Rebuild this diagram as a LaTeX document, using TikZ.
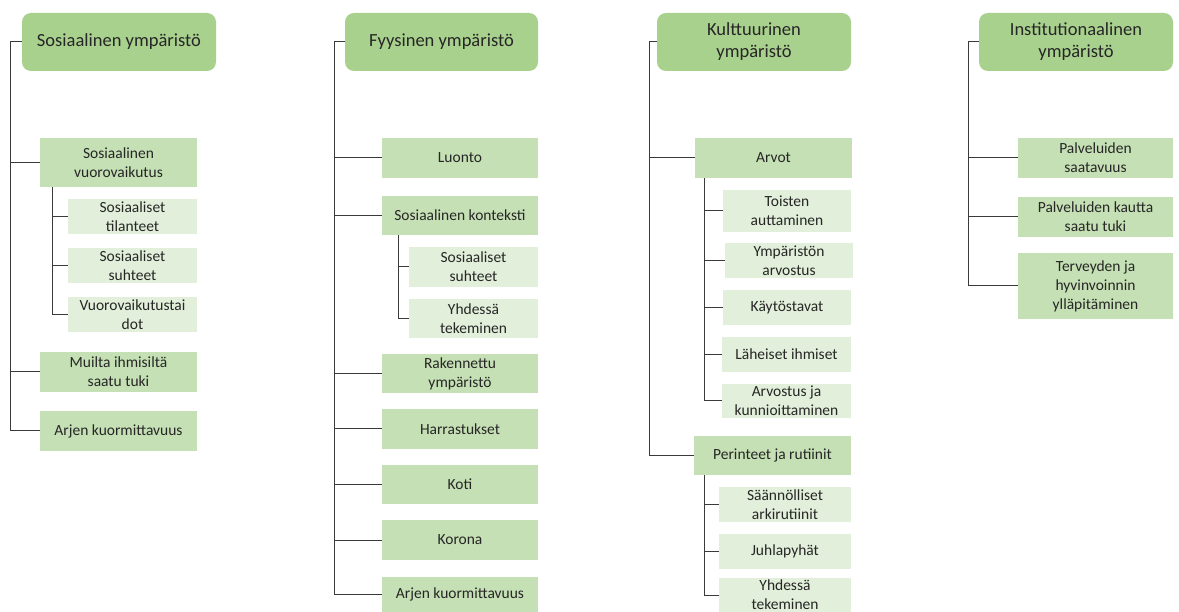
\documentclass[tikz,border=0pt]{standalone}
\usepackage{fontspec}
\setmainfont{Carlito}
\definecolor{hdr}{HTML}{A9D18E}
\definecolor{lvtwo}{HTML}{C5E0B4}
\definecolor{lvthree}{HTML}{E2EFDA}
\definecolor{ink}{HTML}{262626}
\definecolor{wire}{HTML}{3A3A3A}
\newcommand\mybox[7]{\node[#1, minimum width={(#5-#3)*1pt}, minimum height={(#6-#4)*1pt}] (#2) at ({(#3+#5)/2},{(#4+#6)/2}) {#7};}
\begin{document}
\begin{tikzpicture}[x=1pt,y=-1pt,
  hbox/.style={fill=hdr, rounded corners=9pt, inner sep=0pt, align=center, text=ink, font=\fontsize{18.5}{22}\selectfont},
  lbox/.style={fill=lvtwo, inner sep=0pt, align=center, text=ink, font=\fontsize{15.5}{19}\selectfont},
  sbox/.style={fill=lvthree, inner sep=0pt, align=center, text=ink, font=\fontsize{15.5}{19}\selectfont},
  conn/.style={draw=wire, line width=1pt}]
\useasboundingbox (0,0) rectangle (1179,612);
\fill[white] (0,0) rectangle (1179,612);
% ---------- column 1
\mybox{hbox}{h1}{22}{13}{216}{71}{Sosiaalinen ympäristö}
\mybox{lbox}{sv}{40}{138}{197}{187}{Sosiaalinen\\vuorovaikutus}
\mybox{sbox}{st}{68}{199}{197}{234}{Sosiaaliset\\tilanteet}
\mybox{sbox}{ssa}{68}{248}{197}{283}{Sosiaaliset\\suhteet}
\mybox{sbox}{vd}{68}{297}{197}{332}{Vuorovaikutustai\\dot}
\mybox{lbox}{mt}{40}{352}{197}{392}{Muilta ihmisiltä\\saatu tuki}
\mybox{lbox}{aka}{40}{411}{197}{451}{Arjen kuormittavuus}
\coordinate (ta) at (10,0);
\coordinate (sa) at (52,0);
\draw[conn] (h1.west) -- (h1.west -| ta) -- (aka.west -| ta) -- (aka.west);
\draw[conn] (sv.west -| ta) -- (sv.west);
\draw[conn] (mt.west -| ta) -- (mt.west);
\draw[conn] (sv.south -| sa) -- (vd.west -| sa) -- (vd.west);
\draw[conn] (st.west -| sa) -- (st.west);
\draw[conn] (ssa.west -| sa) -- (ssa.west);
% ---------- column 2
\mybox{hbox}{h2}{345}{13}{538}{71}{Fyysinen ympäristö}
\mybox{lbox}{lu}{382}{138}{538}{178}{Luonto}
\mybox{lbox}{sk}{382}{196}{538}{235}{Sosiaalinen konteksti}
\mybox{sbox}{ssb}{409}{247}{538}{287}{Sosiaaliset\\suhteet}
\mybox{sbox}{ytb}{409}{299}{538}{338}{Yhdessä\\tekeminen}
\mybox{lbox}{ry}{382}{354}{538}{393}{Rakennettu\\ympäristö}
\mybox{lbox}{ha}{382}{409}{538}{449}{Harrastukset}
\mybox{lbox}{ko}{382}{465}{538}{504}{Koti}
\mybox{lbox}{kr}{382}{520}{538}{560}{Korona}
\mybox{lbox}{akb}{382}{577}{538}{612}{Arjen kuormittavuus}
\coordinate (tb) at (334,0);
\coordinate (sb) at (398,0);
\draw[conn] (h2.west) -- (h2.west -| tb) -- (akb.west -| tb) -- (akb.west);
\foreach \n in {lu,sk,ry,ha,ko,kr} \draw[conn] (\n.west -| tb) -- (\n.west);
\draw[conn] (sk.south -| sb) -- (ytb.west -| sb) -- (ytb.west);
\draw[conn] (ssb.west -| sb) -- (ssb.west);
% ---------- column 3
\mybox{hbox}{h3}{657}{13}{851}{71}{Kulttuurinen\\ympäristö}
\mybox{lbox}{ar}{695}{138}{852}{178}{Arvot}
\mybox{sbox}{toi}{723}{190}{851}{232}{Toisten\\auttaminen}
\mybox{sbox}{ya}{725}{243}{853}{278}{Ympäristön\\arvostus}
\mybox{sbox}{kt}{723}{290}{851}{325}{Käytöstavat}
\mybox{sbox}{li}{722}{337}{851}{372}{Läheiset ihmiset}
\mybox{sbox}{aj}{722}{384}{851}{418}{Arvostus ja\\kunnioittaminen}
\mybox{lbox}{pr}{694}{436}{851}{475}{Perinteet ja rutiinit}
\mybox{sbox}{sr}{719}{487}{851}{522}{Säännölliset\\arkirutiinit}
\mybox{sbox}{ju}{719}{534}{851}{569}{Juhlapyhät}
\mybox{sbox}{ytc}{719}{578}{851}{612}{\fontsize{15.5}{16.5}\selectfont Yhdessä\\tekeminen}
\coordinate (tc) at (649,0);
\coordinate (sc) at (704,0);
\draw[conn] (h3.west) -- (h3.west -| tc) -- (pr.west -| tc) -- (pr.west);
\draw[conn] (ar.west -| tc) -- (ar.west);
\draw[conn] (ar.south -| sc) -- (aj.west -| sc) -- (aj.west);
\foreach \n in {toi,ya,kt,li} \draw[conn] (\n.west -| sc) -- (\n.west);
\draw[conn] (pr.south -| sc) -- (ytc.west -| sc) -- (ytc.west);
\foreach \n in {sr,ju} \draw[conn] (\n.west -| sc) -- (\n.west);
% ---------- column 4
\mybox{hbox}{h4}{979}{13}{1173}{71}{Institutionaalinen\\ympäristö}
\mybox{lbox}{ps}{1018}{138}{1173}{178}{Palveluiden\\saatavuus}
\mybox{lbox}{pk}{1018}{197}{1173}{237}{Palveluiden kautta\\saatu tuki}
\mybox{lbox}{tj}{1018}{253}{1173}{319}{Terveyden ja\\hyvinvoinnin\\ylläpitäminen}
\coordinate (td) at (968,0);
\draw[conn] (h4.west) -- (h4.west -| td) -- (tj.west -| td) -- (tj.west);
\foreach \n in {ps,pk} \draw[conn] (\n.west -| td) -- (\n.west);
\end{tikzpicture}
\end{document}
